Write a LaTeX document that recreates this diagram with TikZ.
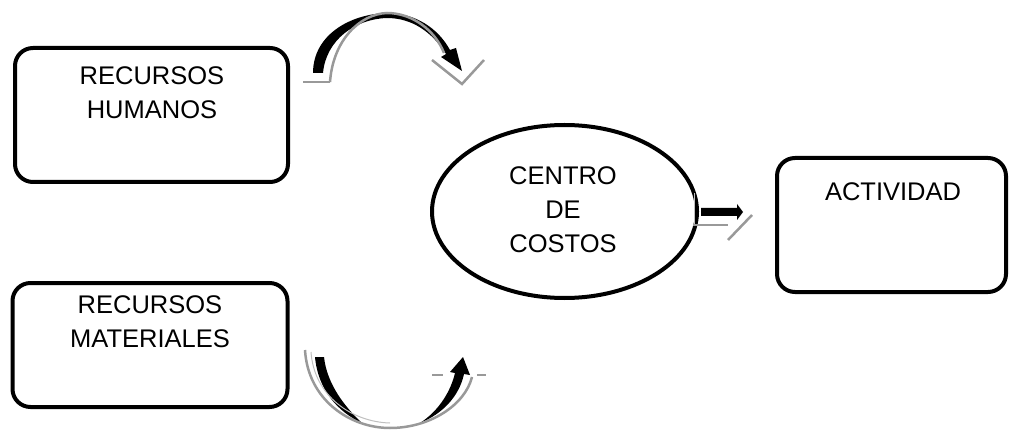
\documentclass[tikz,border=0pt]{standalone}
\usepackage{fontspec}
\setmainfont{Liberation Sans}
\usetikzlibrary{shapes.geometric}
\begin{document}
\begin{tikzpicture}[x=1pt,y=-1pt,
  box/.style={draw=black,line width=4pt,rounded corners=18pt,inner sep=0pt},
  lbl/.style={font=\fontsize{25.5}{34}\selectfont,align=center,inner sep=0pt},
  shade/.style={draw=black!40,line width=2.5pt},
  blk/.style={fill=black}]
\useasboundingbox (0,0) rectangle (1019,430);
% boxes
\node[box,minimum width=273pt,minimum height=134pt] (rh) at (151.5,115) {};
\node[box,minimum width=275pt,minimum height=124pt] (rm) at (150,345) {};
\node[box,minimum width=229pt,minimum height=134pt] (act) at (891.5,225) {};
\node[draw=black,line width=4pt,ellipse,minimum width=265pt,minimum height=173pt] (cc) at (564.5,211.5) {};
% labels
\node[lbl] (trh) at (152,93) {RECURSOS\\HUMANOS};
\node[lbl] (trm) at (150,322) {RECURSOS\\MATERIALES};
\node[lbl] (tcc) at (563,210) {CENTRO\\DE\\COSTOS};
\node[lbl] (tact) at (893,192) {ACTIVIDAD};
% top curved arrow
\coordinate (t0) at (313,73);
\fill[blk] (t0) .. controls (313,35) and (350,14) .. (387,13) .. controls (415,13) and (438,28) .. (450,50)
  -- (456,48) -- (462,71) -- (441,57) -- (446,54) .. controls (432,32) and (412,18) .. (387,18)
  .. controls (355,19) and (326,40) .. (323,73) -- cycle;
\draw[shade] (303,82) -- (330,82);
\draw[shade] (330,82) .. controls (333,40) and (360,14) .. (387,13) .. controls (412,13) and (435,30) .. (444,53);
\draw[shade] (432,60) -- (462,84) -- (484,60);
% bottom curved arrow
\coordinate (b0) at (315,357);
\fill[blk] (b0) .. controls (318,390) and (338,412) .. (362,423) .. controls (346,408) and (327,385) .. (324,357) -- cycle;
\fill[blk] (420,423) .. controls (440,410) and (451,390) .. (455,373) -- (450,372) -- (463,357) -- (470,375)
  -- (464,374) .. controls (459,397) and (442,414) .. (420,423) -- cycle;
\draw[shade] (305,350) .. controls (308,400) and (350,428) .. (390,428) .. controls (430,428) and (465,405) .. (472,377);
\draw[draw=black!25,line width=1pt] (311,352) .. controls (314,396) and (352,422) .. (390,423);
\draw[shade] (432,375) -- (443,375);
\draw[shade] (477,375) -- (486,375);
% small arrow
\fill[blk] (701,208) -- (737,208) -- (737,204) -- (743,212) -- (737,220) -- (737,216) -- (701,216) -- cycle;
\draw[draw=black!25,line width=0.8pt] (694,193) -- (694,224);
\draw[shade] (693,225) -- (728,225);
\draw[shade] (728,240) -- (752,215);
\end{tikzpicture}
\end{document}
